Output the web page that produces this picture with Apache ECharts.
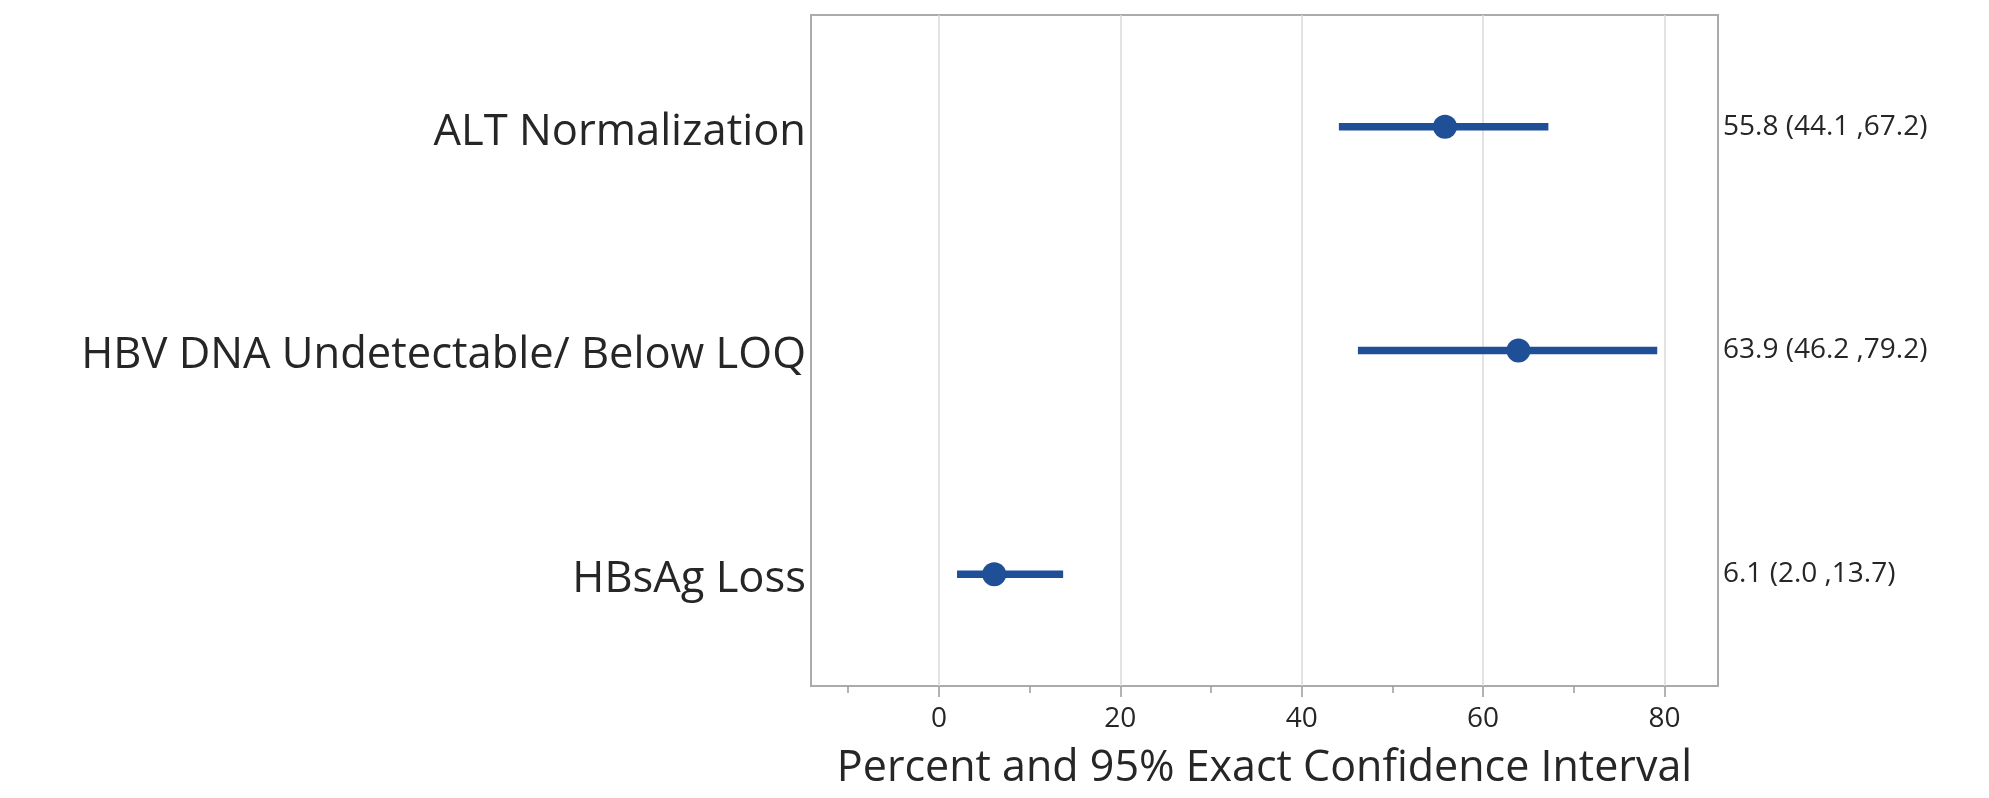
<!DOCTYPE html>
<html>
<head>
<meta charset="utf-8">
<script src="https://cdn.jsdelivr.net/npm/echarts@6/dist/echarts.min.js"></script>
<style>
html,body{margin:0;padding:0;background:#fff;}
#chart{width:1989px;height:798px;}
</style>
</head>
<body>
<div id="chart"></div>
<script>
const categories = ['ALT Normalization', 'HBV DNA Undetectable/ Below LOQ', 'HBsAg Loss'];
const estimates = [55.8, 63.9, 6.1];
const lowerCI = [44.1, 46.2, 2.0];
const upperCI = [67.2, 79.2, 13.7];
const majorTicks = [0, 20, 40, 60, 80];
const minorTicks = [-10, 10, 30, 50, 70];
const xTitle = 'Percent and 95% Exact Confidence Interval';

const rightLabels = categories.map((c, i) =>
  estimates[i].toFixed(1) + ' (' + lowerCI[i].toFixed(1) + ' ,' + upperCI[i].toFixed(1) + ')');

const FONT = 'Open Sans';
const BLUE = '#1f4f96';
const TEXT = '#262626';

const chart = echarts.init(document.getElementById('chart'), null, {renderer: 'canvas'});
const xMin = -14.1, xMax = 85.9;

chart.setOption({
  animation: false,
  backgroundColor: '#fff',
  grid: {left: 811, right: 271, top: 15, bottom: 112, show: true,
         borderColor: '#ababab', borderWidth: 2, containLabel: false,
         outerBoundsMode: 'none'},
  xAxis: [{
    type: 'value', min: xMin, max: xMax, position: 'bottom',
    axisLine: {show: false},
    axisTick: {show: true, customValues: majorTicks, length: 11, lineStyle: {color: '#9a9a9a', width: 1.5}},
    axisLabel: {customValues: majorTicks, fontFamily: FONT, fontSize: 28, color: TEXT, margin: 19},
    splitLine: {show: true, lineStyle: {color: '#dadada', width: 1.5}},
    name: xTitle, nameLocation: 'middle', nameGap: 61,
    nameTextStyle: {fontFamily: FONT, fontSize: 43, color: TEXT}
  }, {
    type: 'value', min: xMin, max: xMax, position: 'bottom',
    axisLine: {show: false},
    axisTick: {show: true, customValues: minorTicks, length: 7, lineStyle: {color: '#9a9a9a', width: 1.5}},
    axisLabel: {show: false},
    splitLine: {show: false}
  }],
  yAxis: [{
    type: 'category', data: categories, inverse: true,
    axisLine: {show: false}, axisTick: {show: false}, splitLine: {show: false},
    axisLabel: {fontFamily: FONT, fontSize: 43.5, color: TEXT, margin: 5,
                formatter: v => '{a|' + v + '}',
                rich: {a: {fontFamily: FONT, fontSize: 43.5, color: TEXT, padding: [11, 0, 0, 0]}}}
  }, {
    type: 'category', data: rightLabels, inverse: true, position: 'right',
    axisLine: {show: false}, axisTick: {show: false}, splitLine: {show: false},
    axisLabel: {fontFamily: FONT, fontSize: 28, color: TEXT, margin: 5, align: 'left'}
  }],
  series: [{
    type: 'custom',
    xAxisIndex: 0, yAxisIndex: 0,
    data: categories.map((c, i) => [lowerCI[i], upperCI[i], i]),
    encode: {x: [0, 1], y: 2},
    renderItem: function (params, api) {
      const p1 = api.coord([api.value(0), api.value(2)]);
      const p2 = api.coord([api.value(1), api.value(2)]);
      return {type: 'line', shape: {x1: p1[0], y1: p1[1], x2: p2[0], y2: p2[1]},
              style: {stroke: BLUE, lineWidth: 7.5}};
    },
    z: 3
  }, {
    type: 'scatter',
    xAxisIndex: 0, yAxisIndex: 0,
    data: categories.map((c, i) => [estimates[i], i]),
    symbol: 'circle', symbolSize: 24,
    itemStyle: {color: BLUE, opacity: 1},
    z: 4
  }]
});
</script>
</body>
</html>
